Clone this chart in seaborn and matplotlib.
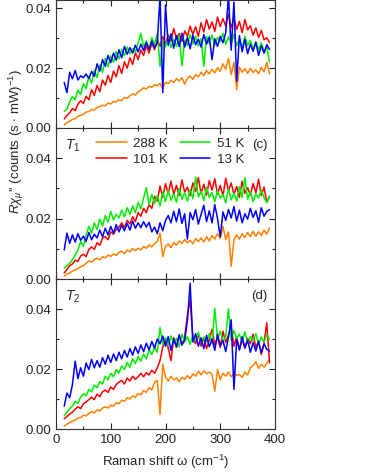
import numpy as np
import pandas as pd
import matplotlib.pyplot as plt
import seaborn as sns
from matplotlib.ticker import MultipleLocator

# Raman shift grid (cm^-1)
omega = np.arange(15, 391, 5)
temps = ["288 K", "101 K", "51 K", "13 K"]
colors = ["#FF8000", "#FF0000", "#00EE00", "#0000FF"]

# values, in units of 1e-3 counts (s mW)^-1
# top panel (cut off)
b_288 = [1.0, 1.8, 2.3, 2.9, 3.1, 3.9, 4.2, 4.6, 5.3, 5.5,
         6.2, 6.0, 6.9, 7.1, 7.6, 7.4, 8.3, 8.0, 8.9, 8.7,
         9.4, 9.1, 10.2, 9.9, 10.8, 11.4, 11.0, 12.1, 12.6, 13.4,
         13.0, 13.9, 13.6, 14.4, 14.1, 14.9, 13.2, 15.3, 14.8, 15.9,
         15.2, 16.4, 15.7, 16.8, 14.6, 16.6, 17.3, 16.2, 17.8, 17.1,
         18.6, 17.4, 19.2, 18.0, 19.6, 18.4, 20.1, 18.9, 21.4, 19.6,
         23.2, 17.8, 22.0, 12.8, 20.3, 18.6, 19.8, 18.2, 19.9, 18.5,
         19.4, 18.1, 20.2, 18.7, 21.9, 18.0]
b_101 = [3.0, 4.2, 5.1, 6.5, 5.8, 7.9, 9.1, 8.2, 10.6, 9.4,
         12.8, 10.9, 14.2, 12.1, 16.0, 14.3, 17.5, 15.2, 19.0, 17.1,
         20.8, 18.2, 22.1, 20.0, 23.4, 21.2, 25.1, 22.8, 26.0, 24.2,
         27.4, 25.0, 28.3, 26.1, 29.6, 27.2, 30.5, 28.1, 31.0, 29.0,
         33.2, 29.8, 31.5, 28.9, 32.4, 30.6, 34.0, 31.2, 33.8, 30.5,
         35.1, 32.0, 36.2, 33.0, 35.4, 32.2, 37.0, 33.8, 36.5, 34.0,
         38.0, 33.5, 36.8, 32.9, 35.6, 31.8, 36.2, 32.7, 34.1, 31.0,
         33.4, 30.2, 32.6, 29.4, 30.1, 28.5]
b_51 = [5.6, 6.2, 8.8, 10.5, 9.4, 12.6, 11.2, 14.8, 13.1, 17.2,
        15.0, 19.3, 16.8, 21.0, 18.6, 23.2, 20.4, 24.1, 21.9, 25.5,
        23.0, 26.2, 24.1, 27.0, 24.8, 26.5, 25.2, 28.4, 31.6, 27.1,
        29.0, 26.4, 30.2, 27.8, 31.5, 20.6, 28.9, 27.0, 30.4, 26.8,
        29.6, 27.2, 30.8, 20.8, 29.4, 27.5, 31.2, 28.0, 30.6, 27.4,
        29.8, 20.6, 30.5, 28.2, 31.0, 27.6, 30.2, 28.8, 31.6, 27.9,
        30.4, 28.1, 31.2, 27.4, 29.9, 26.8, 30.6, 27.6, 29.2, 26.5,
        28.8, 26.0, 28.4, 25.6, 27.0, 22.0]
b_13 = [15.2, 11.8, 18.6, 16.4, 19.2, 16.0, 17.4, 16.8, 18.0, 16.5,
        18.9, 17.2, 21.4, 19.0, 22.8, 20.6, 24.2, 21.8, 25.0, 22.6,
        26.1, 23.4, 27.2, 24.6, 26.8, 25.0, 27.6, 25.4, 28.0, 25.8,
        28.5, 26.2, 29.0, 26.8, 28.2, 44.0, 11.8, 41.0, 27.5, 31.4,
        26.6, 30.8, 27.2, 31.6, 27.0, 30.2, 26.4, 31.0, 27.8, 29.6,
        27.0, 31.2, 28.0, 30.4, 22.8, 29.8, 27.2, 30.6, 28.4, 31.8,
        44.0, 26.0, 42.0, 15.6, 30.8, 25.4, 29.6, 24.8, 28.0, 25.6,
        28.6, 24.2, 27.4, 25.0, 27.8, 26.2]

# T1 panel (c)
t1_288 = [1.0, 1.6, 2.0, 2.6, 3.0, 3.4, 4.1, 4.4, 5.2, 6.0,
          5.6, 6.4, 6.9, 6.3, 7.4, 7.0, 7.9, 7.5, 8.3, 7.8,
          8.8, 9.2, 8.4, 9.6, 9.0, 10.1, 9.4, 10.2, 9.6, 10.8,
          10.2, 11.3, 10.6, 11.8, 12.4, 15.2, 7.4, 10.8, 11.6, 10.4,
          12.0, 11.2, 12.6, 11.8, 13.1, 12.0, 12.8, 11.6, 13.4, 12.4,
          13.6, 12.2, 14.0, 12.6, 14.4, 13.2, 15.0, 13.4, 17.4, 13.0,
          15.6, 4.2, 13.0, 14.6, 13.2, 15.0, 13.8, 15.4, 14.0, 15.8,
          14.2, 15.6, 14.4, 16.2, 14.8, 17.0]
t1_101 = [2.0, 3.2, 4.4, 5.0, 6.2, 5.8, 7.6, 8.2, 7.4, 9.8,
          10.6, 9.8, 12.0, 11.2, 13.6, 14.0, 13.0, 15.6, 14.8, 16.4,
          17.2, 18.6, 17.0, 19.4, 18.2, 20.6, 19.0, 22.0, 20.8, 23.4,
          22.0, 24.6, 23.4, 27.4, 25.8, 30.8, 27.0, 31.6, 28.2, 32.4,
          28.0, 31.0, 27.6, 32.8, 28.8, 30.4, 27.6, 31.8, 29.0, 33.6,
          28.2, 31.4, 27.8, 32.6, 29.4, 33.2, 28.0, 31.0, 27.4, 33.4,
          29.2, 31.8, 28.0, 30.6, 27.0, 32.4, 28.4, 30.2, 27.8, 31.6,
          28.6, 33.0, 27.6, 30.4, 25.4, 27.2]
t1_51 = [3.6, 4.4, 5.2, 6.4, 7.8, 9.6, 12.4, 10.8, 14.6, 17.4,
         15.2, 18.6, 16.4, 19.8, 17.6, 21.0, 18.8, 22.4, 19.6, 21.4,
         20.2, 22.8, 20.6, 23.6, 21.4, 24.2, 22.0, 25.4, 23.2, 26.8,
         30.2, 24.6, 28.0, 25.0, 27.6, 24.2, 28.8, 25.6, 29.4, 26.0,
         28.2, 25.4, 30.0, 26.4, 28.6, 25.8, 29.6, 26.6, 33.8, 27.2,
         29.0, 26.0, 30.4, 27.0, 28.6, 25.6, 29.2, 26.8, 28.0, 25.2,
         29.8, 26.2, 28.4, 25.8, 30.6, 27.0, 33.6, 26.4, 29.0, 25.6,
         28.2, 26.8, 29.4, 27.0, 25.2, 27.4]
t1_13 = [9.6, 15.2, 11.8, 14.6, 12.2, 15.0, 12.8, 14.2, 12.4, 15.4,
         13.0, 14.8, 13.6, 16.2, 14.0, 16.8, 14.6, 17.4, 15.2, 18.0,
         15.6, 17.8, 16.0, 18.4, 16.2, 19.2, 16.8, 18.6, 17.0, 19.0,
         17.2, 18.8, 15.6, 17.2, 15.0, 18.6, 16.0, 19.4, 21.0, 18.6,
         22.4, 19.0, 23.2, 18.4, 21.6, 13.2, 22.0, 19.6, 23.0, 18.2,
         21.4, 24.4, 19.0, 22.6, 18.6, 24.6, 20.0, 14.0, 22.2, 19.4,
         23.0, 20.2, 24.0, 19.2, 22.8, 18.6, 21.6, 19.8, 23.4, 20.4,
         22.6, 18.8, 23.6, 20.8, 22.4, 23.0]

# T2 panel (d)
t2_288 = [1.0, 1.6, 2.2, 2.6, 3.0, 3.6, 3.8, 4.6, 4.4, 5.2,
          5.8, 5.4, 6.4, 6.0, 7.0, 7.4, 7.0, 8.0, 7.6, 8.8,
          8.4, 9.6, 9.2, 10.4, 10.0, 11.0, 10.6, 11.8, 11.4, 12.8,
          12.2, 13.8, 13.0, 15.6, 16.2, 4.8, 21.6, 17.2, 16.0, 17.6,
          16.4, 17.0, 15.8, 17.2, 16.6, 17.8, 16.8, 18.4, 17.6, 19.2,
          18.0, 19.4, 18.4, 19.0, 18.2, 12.6, 19.8, 16.4, 18.6, 17.6,
          19.0, 17.4, 18.6, 17.8, 18.2, 17.2, 19.0, 18.0, 20.4, 21.2,
          22.4, 20.2, 21.6, 20.6, 22.0, 23.0]
t2_101 = [3.4, 4.2, 5.0, 5.6, 6.6, 7.4, 6.8, 8.4, 9.0, 9.8,
          10.6, 9.8, 11.6, 10.8, 12.4, 13.0, 12.2, 14.0, 13.2, 14.8,
          15.6, 16.2, 15.0, 17.0, 16.0, 17.6, 16.6, 17.4, 18.6, 17.4,
          18.8, 18.0, 19.6, 18.6, 20.4, 22.8, 27.4, 29.6, 27.0, 22.8,
          30.4, 27.2, 31.2, 28.0, 30.6, 38.0, 43.0, 30.2, 28.4, 31.8,
          27.6, 30.6, 26.8, 29.8, 33.2, 28.0, 30.4, 27.2, 32.6, 28.8,
          31.4, 33.8, 27.6, 30.8, 26.4, 29.6, 27.0, 30.2, 28.4, 31.6,
          27.2, 29.4, 24.8, 28.6, 35.4, 22.0]
t2_51 = [4.4, 5.6, 6.8, 7.6, 9.2, 8.6, 10.6, 11.8, 11.0, 13.2,
         12.4, 14.6, 13.8, 15.8, 15.0, 17.6, 16.4, 18.6, 17.4, 19.8,
         18.6, 21.0, 19.8, 22.2, 20.6, 23.4, 21.8, 24.2, 22.6, 25.0,
         23.4, 26.4, 24.8, 27.2, 25.6, 33.8, 28.2, 30.4, 27.8, 31.0,
         28.6, 30.2, 27.4, 31.6, 29.0, 30.8, 28.2, 31.4, 29.6, 32.2,
         28.8, 30.6, 29.0, 31.8, 28.4, 40.2, 30.0, 32.6, 29.2, 31.0,
         40.0, 29.6, 32.8, 30.2, 31.6, 29.0, 32.4, 28.6, 30.8, 29.4,
         31.8, 28.2, 30.6, 29.0, 31.4, 30.0]
t2_13 = [7.6, 12.0, 10.4, 14.8, 22.6, 16.8, 20.4, 17.6, 22.0, 19.8,
         23.2, 20.4, 22.8, 20.6, 23.8, 21.6, 24.6, 22.2, 25.0, 22.8,
         25.6, 23.4, 26.2, 24.0, 26.8, 24.6, 27.4, 25.2, 28.0, 25.8,
         28.6, 26.4, 29.2, 27.0, 30.0, 28.4, 31.0, 27.6, 30.8, 26.2,
         30.0, 27.4, 31.4, 28.0, 29.6, 36.0, 48.6, 29.0, 31.8, 27.6,
         30.4, 26.8, 31.2, 27.4, 30.0, 26.2, 31.6, 27.8, 29.4, 25.8,
         30.6, 36.4, 13.2, 29.8, 26.4, 30.8, 27.0, 29.6, 25.6, 28.8,
         26.0, 29.2, 25.4, 28.4, 26.6, 26.0]

panels = [
    ([b_288, b_101, b_51, b_13], None, None, 0.0427),
    ([t1_288, t1_101, t1_51, t1_13], "$T_1$", "(c)", 0.05),
    ([t2_288, t2_101, t2_51, t2_13], "$T_2$", "(d)", 0.05),
]

sns.set_style("ticks")
plt.rcParams["font.family"] = ["Liberation Sans", "DejaVu Sans"]
plt.rcParams["mathtext.fontset"] = "custom"
plt.rcParams["mathtext.rm"] = "Liberation Sans"
plt.rcParams["mathtext.it"] = "Liberation Sans:italic"

fig = plt.figure(figsize=(3.66, 4.73), dpi=100)
W, H = 366, 473
left, right = 56, 275
# panel pixel extents (top, bottom)
extents = [(0, 128), (128, 279), (279, 429)]

for i, ((series, tlab, plab, ytop), (top, bot)) in enumerate(zip(panels, extents)):
    ax = fig.add_axes([left / W, 1 - bot / H, (right - left) / W, (bot - top) / H])
    df = pd.DataFrame({
        "omega": np.tile(omega, 4),
        "R": np.concatenate(series) * 1e-3,
        "T": np.repeat(temps, len(omega)),
    })
    sns.lineplot(data=df, x="omega", y="R", hue="T", hue_order=temps,
                 palette=colors, estimator=None, errorbar=None, sort=False,
                 lw=1.1, ax=ax, legend=(i == 1))
    ax.set_xlim(0, 400)
    ax.set_ylim(0, ytop)
    ax.xaxis.set_major_locator(MultipleLocator(100))
    ax.xaxis.set_minor_locator(MultipleLocator(50))
    ax.yaxis.set_major_locator(MultipleLocator(0.02))
    ax.yaxis.set_minor_locator(MultipleLocator(0.01))
    ax.yaxis.set_major_formatter(plt.FormatStrFormatter("%.2f"))
    ax.tick_params(which="both", direction="in", top=True, right=True,
                   labelsize=9.5, width=0.8, colors="#222222")
    ax.tick_params(which="major", length=4)
    ax.tick_params(which="minor", length=2.5)
    ax.set_xlabel("")
    ax.set_ylabel("")
    for s in ax.spines.values():
        s.set_linewidth(0.8)
        s.set_color("#333333")
    if i < 2:
        ax.tick_params(labelbottom=False)
    if tlab:
        ax.text(0.04, 0.88, tlab, transform=ax.transAxes, fontsize=10,
                va="center", ha="left")
        ax.text(0.965, 0.89, plab, transform=ax.transAxes, fontsize=9.5,
                va="center", ha="right")
    if i == 1:
        h, l = ax.get_legend_handles_labels()
        ax.legend(h, l, ncol=2, loc="upper left", bbox_to_anchor=(0.16, 0.97),
                  frameon=False, fontsize=9.5, handlelength=2.3,
                  handletextpad=0.5, columnspacing=0.9, labelspacing=0.25,
                  borderaxespad=0)
    if i == 2:
        ax.set_xlabel("Raman shift \u03c9 (cm$^{-1}$)", fontsize=9.5, labelpad=5)

fig.text(0.045, 0.70, "$R\\chi_{\\mu}$'' (counts (s $\\cdot$ mW)$^{-1}$)",
         rotation=90, ha="center", va="center", fontsize=9.5)

fig.savefig("out.png", dpi=100)
